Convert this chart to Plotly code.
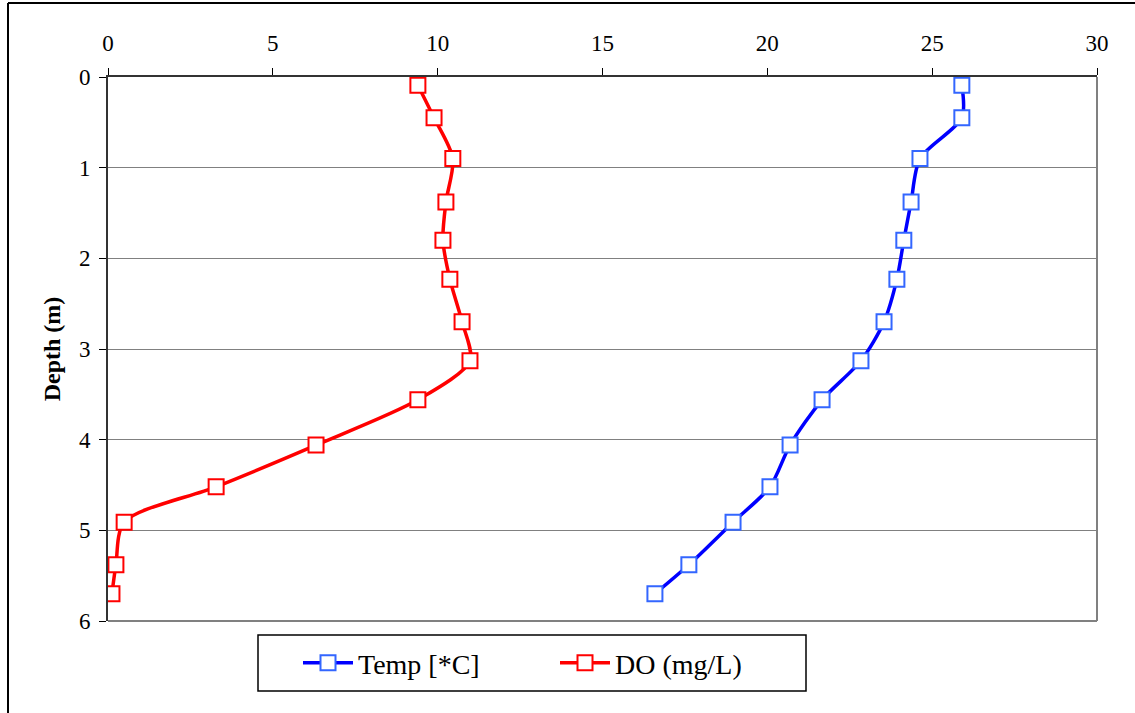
import plotly.graph_objects as go

depth = [0.09, 0.45, 0.90, 1.38, 1.80, 2.23, 2.70, 3.13, 3.56, 4.06, 4.52, 4.91, 5.38, 5.70]
temp = [25.9, 25.9, 24.63, 24.36, 24.14, 23.93, 23.54, 22.84, 21.66, 20.69, 20.08, 18.96, 17.62, 16.59]
do = [9.4, 9.89, 10.46, 10.25, 10.16, 10.37, 10.74, 10.98, 9.4, 6.31, 3.28, 0.49, 0.24, 0.12]

W, H = 1135, 713
L, R, T, B = 108, 1097, 77, 621
font = "Times New Roman, Liberation Serif, serif"

fig = go.Figure()
fig.add_trace(go.Scatter(
    x=temp, y=depth, name="Temp [*C]", mode="lines+markers",
    line=dict(color="#0000FF", width=3.5, shape="spline", smoothing=0.8),
    marker=dict(symbol="square", size=15, color="white",
                line=dict(color="#3366FF", width=2)),
))
fig.add_trace(go.Scatter(
    x=do, y=depth, name="DO (mg/L)", mode="lines+markers",
    line=dict(color="#FF0000", width=3.5, shape="spline", smoothing=0.8),
    marker=dict(symbol="square", size=15, color="white",
                line=dict(color="#FF0000", width=2)),
))

pw, ph = R - L, B - T
def px(x): return (x - L) / pw
def py(y): return (B - y) / ph

fig.update_layout(
    width=W, height=H,
    margin=dict(l=L, r=W - R, t=T, b=H - B),
    paper_bgcolor="white", plot_bgcolor="white",
    font=dict(family=font, size=24, color="black"),
    showlegend=True,
    legend=dict(orientation="h", x=px(298), y=py(663), xanchor="left", yanchor="middle",
                borderwidth=0, bgcolor="rgba(0,0,0,0)",
                font=dict(family=font, size=28),
                entrywidth=192, itemwidth=50),
    xaxis=dict(side="top", range=[0, 30], dtick=5, showgrid=False, zeroline=False,
               ticks="outside", ticklen=7, tickcolor="black", showline=True,
               linecolor="#333333", linewidth=2, ticklabelstandoff=8,
               tickfont=dict(family=font, size=23)),
    yaxis=dict(range=[6, 0], dtick=1, showgrid=True, gridcolor="#808080", gridwidth=1,
               zeroline=False, ticks="outside", ticklen=7, tickcolor="black",
               showline=True, linecolor="#333333", linewidth=2, ticklabelstandoff=4,
               tickfont=dict(family=font, size=23),
               title=dict(text="<b>Depth (m)</b>", font=dict(family=font, size=24), standoff=12)),
    shapes=[
        dict(type="line", xref="paper", yref="paper", x0=1, x1=1, y0=0, y1=1,
             line=dict(color="#808080", width=2)),
        dict(type="line", xref="paper", yref="paper", x0=0, x1=1, y0=0, y1=0,
             line=dict(color="#808080", width=2)),
        dict(type="line", xref="paper", yref="paper", x0=px(8), x1=px(8), y0=py(3), y1=py(720),
             line=dict(color="black", width=2)),
        dict(type="line", xref="paper", yref="paper", x0=px(8), x1=px(1140), y0=py(3), y1=py(3),
             line=dict(color="black", width=2)),
        dict(type="rect", xref="paper", yref="paper", x0=px(258), x1=px(806), y0=py(635), y1=py(691),
             line=dict(color="black", width=1.5), layer="below"),
    ],
)

fig.write_html("out.html")
